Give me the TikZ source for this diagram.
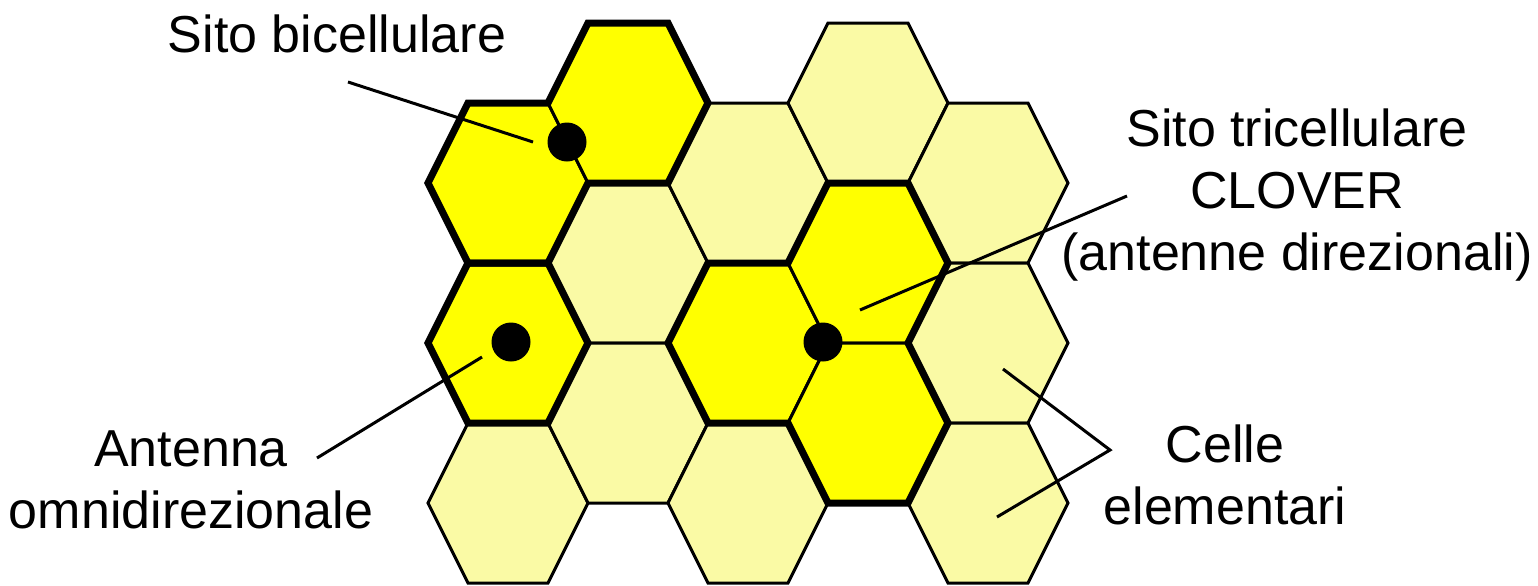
\documentclass[tikz,border=0pt]{standalone}
\usepackage{fontspec}
\setmainfont{Liberation Sans}
\usepackage{xcolor}
\usepackage{tikz}
\definecolor{sun}{HTML}{FFFF00}
\definecolor{pale}{HTML}{FAFAA5}
\tikzset{
  cell/.style={draw=black,line width=1.5pt},
  site/.style={draw=black,line width=3.5pt},
  dot/.style={circle,fill=black,inner sep=0pt,minimum size=19.5pt},
  lead/.style={draw=black,line width=1.5pt},
  lbl/.style={align=center,inner sep=0pt,font=\fontsize{26}{31}\selectfont}
}
\begin{document}
\begin{tikzpicture}[x=0.5pt,y=-0.5pt]
\useasboundingbox (0,0) rectangle (1538,585);
\foreach \x/\y/\c in {508/183/sun,508/343/sun,508/503/pale,628/103/sun,628/263/pale,628/423/pale,748/183/pale,748/343/sun,748/503/pale,868/103/pale,868/263/sun,868/423/sun,988/183/pale,988/343/pale,988/503/pale}
  \filldraw[cell,fill=\c] (\x-80,\y)--(\x-40,\y-80)--(\x+40,\y-80)--(\x+80,\y)--(\x+40,\y+80)--(\x-40,\y+80)--cycle;
\draw[site] (468,103)--(548,103)--(588,23)--(668,23)--(708,103)--(668,183)--(588,183)--(548,263)--(468,263)--(428,183)--cycle;
\draw[site] (468,263)--(548,263)--(588,343)--(548,423)--(468,423)--(428,343)--cycle;
\draw[site] (668,343)--(708,263)--(788,263)--(828,183)--(908,183)--(948,263)--(908,343)--(948,423)--(908,503)--(828,503)--(788,423)--(708,423)--cycle;
\node[dot] (bidot) at (567,142) {};
\node[dot] (omnidot) at (511,342) {};
\node[dot] (tridot) at (823,342) {};
\node[lbl,anchor=base] (bilbl) at (337,52) {Sito bicellulare};
\node[lbl] (trilbl) at (1297,195) {Sito tricellulare\\CLOVER\\(antenne direzionali)};
\node[lbl] (omnilbl) at (191,480) {Antenna\\omnidirezionale};
\node[lbl] (cellelbl) at (1225,475) {Celle\\elementari};
\coordinate (bifrom) at (348,82); \coordinate (bito) at (533,142);
\coordinate (trifrom) at (1127,196); \coordinate (trito) at (860,310);
\coordinate (omnifrom) at (317,458); \coordinate (omnito) at (482,357);
\coordinate (celtip) at (1110,450); \coordinate (celup) at (1003,369); \coordinate (cellow) at (997,517);
\draw[lead] (bifrom)--(bito);
\draw[lead] (trifrom)--(trito);
\draw[lead] (omnifrom)--(omnito);
\draw[lead] (celup)--(celtip)--(cellow);
\end{tikzpicture}
\end{document}
